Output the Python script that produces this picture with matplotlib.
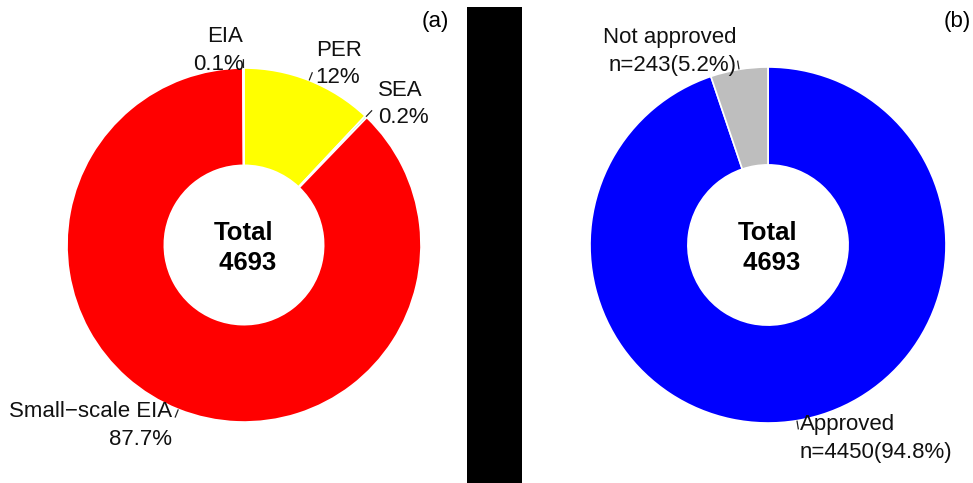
import numpy as np
import matplotlib
matplotlib.use("Agg")
import matplotlib.pyplot as plt
from matplotlib.patches import Rectangle

plt.rcParams['font.family'] = ['Liberation Sans', 'DejaVu Sans']

# Panel (a): assessment type
type_labels = ["PER", "SEA", "Small\u2212scale EIA", "EIA"]
type_pct = [12, 0.2, 87.7, 0.1]
type_pct_text = ["12%", "0.2%", "87.7%", "0.1%"]
type_colors = ["#FFFF00", "#98F898", "#FF0000", "#40E0D0"]

# Panel (b): approval outcome
outcome_labels = ["Approved", "Not approved"]
outcome_n = [4450, 243]
outcome_pct = [94.8, 5.2]
outcome_colors = ["#0000FF", "#BEBEBE"]

total = 4693

W, H = 973, 483
fig = plt.figure(figsize=(W / 100, H / 100), dpi=100)

FS = 16


def donut(ax, values, labels, colors, cx, cy, r, left, width):
    # one data unit equals r pixels, centre at (cx, cy) measured from top-left
    wedges, texts = ax.pie(values, labels=labels, colors=colors, startangle=90,
                           counterclock=False, radius=1, labeldistance=1.1,
                           wedgeprops=dict(width=0.55, edgecolor="white", linewidth=1.2),
                           textprops=dict(fontsize=FS, linespacing=1.42, color="#111111"),
                           normalize=True, frame=True)
    ax.set_xlim((left - cx) / r, (left + width - cx) / r)
    ax.set_ylim(-(H - cy) / r, cy / r)
    ax.set_aspect("auto")
    ax.set_axis_off()
    for w in wedges:
        ang = np.deg2rad((w.theta1 + w.theta2) / 2)
        xs = np.array([1.0, 1.05]) * np.cos(ang)
        ys = np.array([1.0, 1.05]) * np.sin(ang)
        ax.plot(xs, ys, color="#222222", lw=0.9, solid_capstyle="butt")
    ax.text(0, -0.015, f"Total\n {total}", ha="center", va="center", fontsize=18.5,
            fontweight="bold", linespacing=1.3, multialignment="center")


ax1 = fig.add_axes([0, 0, 466 / W, 1])
lab_a = [f"{n}\n{p}" for n, p in zip(type_labels, type_pct_text)]
donut(ax1, type_pct, lab_a, type_colors, 244, 245, 177, 0, 466)

ax2 = fig.add_axes([522 / W, 0, (W - 522) / W, 1])
lab_b = [f"{n}\nn={c}({p}%)" for n, c, p in zip(outcome_labels, outcome_n, outcome_pct)]
donut(ax2, outcome_pct, lab_b, outcome_colors, 768, 245, 178, 522, W - 522)

fig.text(449 / W, 1 - 21 / H, "(a)", ha="right", va="center", fontsize=FS)
fig.text(971 / W, 1 - 21 / H, "(b)", ha="right", va="center", fontsize=FS)

# divider between the panels
fig.patches.append(Rectangle((467 / W, 0), 55 / W, (H - 7) / H,
                             transform=fig.transFigure, facecolor="black",
                             edgecolor="none", zorder=5))

fig.savefig("out.png", dpi=100)
